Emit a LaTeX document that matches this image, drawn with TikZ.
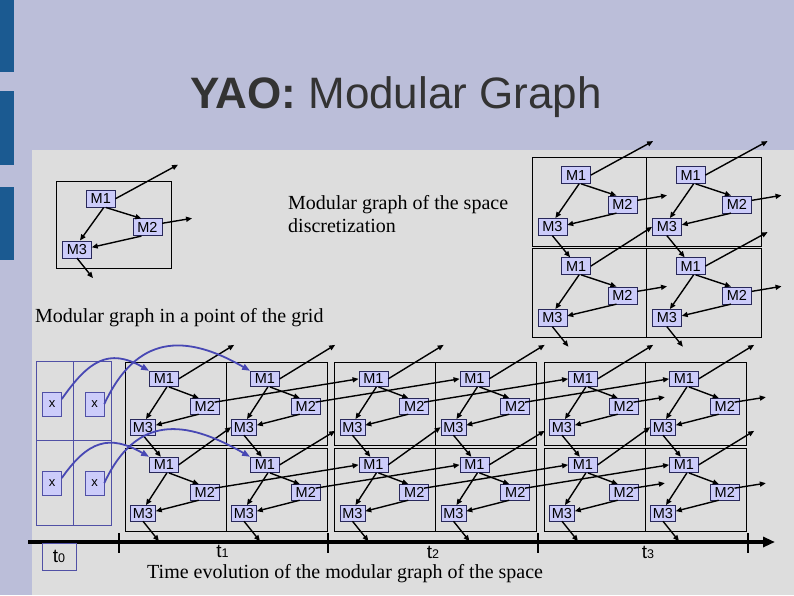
\documentclass[tikz,border=0pt]{standalone}
\usepackage{fontspec}
\setmainfont{Liberation Serif}
\setsansfont{Liberation Sans}
\usetikzlibrary{arrows.meta}

\definecolor{slidebg}{RGB}{187,190,217}
\definecolor{panelgray}{RGB}{221,221,221}
\definecolor{barblue}{RGB}{27,90,145}
\definecolor{modfill}{RGB}{204,204,250}
\definecolor{modedge}{RGB}{40,40,90}
\definecolor{gridblue}{RGB}{80,80,165}
\definecolor{jumpblue}{RGB}{72,72,180}
\definecolor{titlegray}{RGB}{51,51,51}

\tikzset{
  modbig/.style = {
      draw=modedge,
      fill=modfill,
      line width=0.6pt,
      font=\sffamily\fontsize{14.5}{15}\selectfont,
      inner sep=0pt,
      minimum width=29pt,
      minimum height=17pt
  },
  modbig3/.style = {},
  modsmall/.style = {
      modbig,
      minimum height=15.5pt
  },
  modsmall3/.style = {
      minimum width=25pt
  },
  xcell/.style = {
      draw=gridblue,
      fill=modfill,
      line width=0.6pt,
      font=\sffamily\fontsize{13}{13}\selectfont,
      inner sep=0pt,
      minimum width=19pt,
      minimum height=24pt
  },
  tbox/.style = {
      draw=gridblue,
      line width=0.7pt,
      font=\sffamily\fontsize{19}{19}\selectfont,
      inner sep=0pt,
      minimum width=34pt,
      minimum height=27pt
  },
  cellbox/.style = {
      draw=black,
      line width=0.9pt
  },
  gridline/.style = {
      draw=gridblue,
      line width=0.7pt
  },
  link/.style = {
      line width=1.4pt,
      -{Triangle[length=6pt,width=5pt]}
  },
  jump/.style = {
      draw=jumpblue,
      line width=1.8pt,
      looseness=1.3,
      -{Triangle[length=8pt,width=6pt]}
  },
  timeline/.style = {
      line width=3.3pt,
      -{Triangle[length=12pt,width=10pt]}
  },
  tickmark/.style = {
      line width=2.5pt
  },
  caption/.style = {
      font=\fontsize{20}{23}\selectfont,
      inner sep=0pt,
      anchor=base west
  },
  tlabel/.style = {
      font=\sffamily\fontsize{19}{19}\selectfont,
      inner sep=0pt,
      anchor=base
  }
}

% t with a small index
\newcommand{\tsub}[1]{t{\fontsize{12.5}{12.5}\selectfont #1}}

% one cell: name, x, y, width, height, node style
\newcommand{\modcell}[6]{%
  \draw[cellbox] ({#2},{#3}) rectangle ++({#4},{#5});
  \node[#6] (#1-m1) at ({#2+0.385*#4},{#3+0.203*#5}) {M1};
  \node[#6] (#1-m2) at ({#2+0.79*#4},{#3+0.532*#5}) {M2};
  \node[#6,#63] (#1-m3) at ({#2+0.178*#4},{#3+0.785*#5}) {M3};
  \draw[link] ([xshift=5pt]#1-m1.south) -- ([xshift=-6pt]#1-m2.north);
  \draw[link] ([xshift=3pt]#1-m1.south) -- ([xshift=3pt]#1-m3.north);
  \draw[link] ([xshift=-6pt]#1-m2.south) -- ([yshift=2pt]#1-m3.east);
  \coordinate (#1-up) at ([shift={({0.5*#4+5},-34)}]#1-m1.east);
  \coordinate (#1-rt) at ([shift={({0.26*#4},-9)}]#1-m2.east);
  \coordinate (#1-dn) at ([shift={(16,20)}]#1-m3.south);
}

\begin{document}
\begin{tikzpicture}[x=1pt, y=-1pt]
        \useasboundingbox (0,0) rectangle (794,595);
        % Background
        \fill[slidebg] (0,0) rectangle (794,595);
        \fill[panelgray] (32,150) rectangle (794,595);
        \fill[barblue] (0,0) rectangle (14,72);
        \fill[barblue] (0,91) rectangle (14,165);
        \fill[barblue] (0,187) rectangle (14,260);
        % Title
        \node[font=\sffamily\fontsize{44}{44}\selectfont, text=titlegray, anchor=base] (title) at (396,108) {\textbf{YAO:} Modular Graph};
        % Captions
        \node[caption] (disc1) at (288,209.5) {Modular graph of the space};
        \node[caption] (disc2) at (288,232.5) {discretization};
        \node[caption] (point) at (35,322) {Modular graph in a point of the grid};
        \node[caption] (evol) at (147,578) {Time evolution of the modular graph of the space};

        % Single module
        \modcell{mg}{56.5}{181}{115}{87}{modbig}
        \draw[link] (mg-m1.east) -- (mg-up);
        \draw[link] ([yshift=4pt]mg-m2.east) -- (mg-rt);
        \draw[link] (mg-m3.south) -- (mg-dn);

        % Space discretization
        \foreach \row in {0,1}
          \foreach \col in {0,1}
            \modcell{s\row\col}{532+114.5*\col}{157+91*\row}{114.5}{89}{modbig};
        \draw[link] (s00-m1.east) -- (s00-up);
        \draw[link] (s01-m1.east) -- (s01-up);
        \draw[link] (s10-m1.east) -- (s01-m3.west);
        \draw[link] (s11-m1.east) -- (s11-up);
        \foreach \row in {0,1}
          \foreach \col in {0,1}
            \draw[link] ([yshift=4pt]s\row\col-m2.east) -- (s\row\col-rt);
        \foreach \col in {0,1} {
          \draw[link] (s0\col-m3.south) -- ([xshift=-6pt]s1\col-m1.north);
          \draw[link] (s1\col-m3.south) -- (s1\col-dn);
        }

        % Time evolution
        \foreach \blk/\bx in {1/125, 2/334.5, 3/544}
          \foreach \row in {0,1}
            \foreach \col in {0,1}
              \modcell{g\blk\row\col}{\bx+101*\col}{362+86*\row}{101}{83}{modsmall};
        \foreach \blk in {1,2,3} {
          \foreach \col in {0,1} {
            \draw[link] (g\blk0\col-m1.east) -- (g\blk0\col-up);
            \draw[link] (g\blk0\col-m3.south) -- ([xshift=-3pt]g\blk1\col-m1.north);
            \draw[link] (g\blk1\col-m3.south) -- (g\blk1\col-dn);
          }
          \draw[link] (g\blk10-m1.east) -- (g\blk01-m3.west);
          \draw[link] (g\blk11-m1.east) -- (g\blk11-up);
        }
        \foreach \blk/\nxt in {1/2, 2/3}
          \foreach \row in {0,1}
            \foreach \col in {0,1}
              \draw[link] ([xshift=-5pt,yshift=4pt]g\blk\row\col-m2.east) -- (g\nxt\row\col-m1.west);
        \foreach \row in {0,1}
          \foreach \col in {0,1}
            \draw[link] ([xshift=-5pt,yshift=4pt]g3\row\col-m2.east) -- (g3\row\col-rt);

        % Grid point t0
        \draw[gridline] (36,361) rectangle (111,525);
        \draw[gridline] (73.5,361) -- (73.5,525);
        \draw[gridline] (36,440) -- (111,440);
        \node[xcell] (x00) at (52,404) {x};
        \node[xcell] (x01) at (94.5,404) {x};
        \node[xcell] (x10) at (52,483) {x};
        \node[xcell] (x11) at (94.5,483) {x};
        \foreach \row in {0,1} {
          \draw[jump] ([yshift=5pt]x\row0.east) to[out=55, in=150] (g1\row0-m1.north west);
          \draw[jump] (x\row1.east) to[out=65, in=150] (g1\row1-m1.north west);
        }

        % Time axis
        \coordinate (ax0) at (28,542);
        \coordinate (ax1) at (775,542);
        \draw[timeline] (ax0) -- (ax1);
        \foreach \tx in {119,328,538,748}
          \draw[tickmark] (\tx,533) -- (\tx,553);
        \node[tbox] (t0) at (59,556.5) {\tsub{0}};
        \node[tlabel] (t1) at (222.5,557) {\tsub{1}};
        \node[tlabel] (t2) at (433,558) {\tsub{2}};
        \node[tlabel] (t3) at (648,558) {\tsub{3}};
\end{tikzpicture}
\end{document}
